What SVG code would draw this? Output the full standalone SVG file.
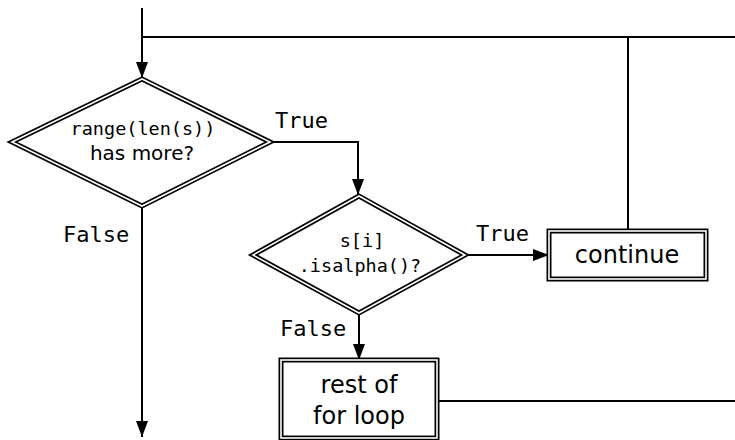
<svg xmlns="http://www.w3.org/2000/svg" width="735" height="440" viewBox="0 0 735 440">
<style>
.edge{fill:none;stroke:#000;stroke-width:2}
.outer{fill:#fff;stroke:#000;stroke-width:5}
.inner{fill:none;stroke:#fff;stroke-width:1.6}
.mono{font-family:"DejaVu Sans Mono","Liberation Mono",monospace;fill:#000}
.sans{font-family:"DejaVu Sans","Liberation Sans",sans-serif;fill:#000}
.d{font-size:18.5px;text-anchor:middle}
.lbl{font-size:22px}
.big{font-size:24px;text-anchor:middle}
</style>
<defs>
<marker id="arr" markerUnits="userSpaceOnUse" markerWidth="16" markerHeight="12" refX="16" refY="6" orient="auto" viewBox="0 0 16 12">
<path d="M0,0 L16,6 L0,12 z" fill="#000"/>
</marker>
</defs>
<rect width="735" height="440" fill="#fff"/>
<g id="connectors">
<path class="edge" d="M142 8 V78" marker-end="url(#arr)"/>
<path class="edge" d="M142 37 H735"/>
<path class="edge" d="M628 37 V231"/>
<path class="edge" d="M142 207 V437" marker-end="url(#arr)"/>
<path class="edge" d="M270 142 H358 V195" marker-end="url(#arr)"/>
<path class="edge" d="M465 255 H549" marker-end="url(#arr)"/>
<path class="edge" d="M359 313 V360" marker-end="url(#arr)"/>
<path class="edge" d="M437 401 H735"/>
<text class="mono lbl" x="275" y="128">True</text>
<text class="mono lbl" x="63" y="242">False</text>
<text class="mono lbl" x="476" y="241">True</text>
<text class="mono lbl" x="280" y="336">False</text>
</g>
<g id="cond1">
<polygon class="outer" points="142,79 12,142 142,206 270,142"/>
<polygon class="inner" points="142,79 12,142 142,206 270,142"/>
<text class="mono d" x="143" y="135">range(len(s))</text>
<text class="sans d" x="142" y="160" style="font-size:20px">has more?</text>
</g>
<g id="cond2">
<polygon class="outer" points="359,196 253,255 359,313 465,255"/>
<polygon class="inner" points="359,196 253,255 359,313 465,255"/>
<text class="mono d" x="362" y="247">s[i]</text>
<text class="mono d" x="360" y="272">.isalpha()?</text>
</g>
<g id="continue">
<rect class="outer" x="549" y="231" width="157" height="48"/>
<rect class="inner" x="549" y="231" width="157" height="48"/>
<text class="sans big" x="627" y="263">continue</text>
</g>
<g id="rest">
<rect class="outer" x="281" y="360" width="156" height="78"/>
<rect class="inner" x="281" y="360" width="156" height="78"/>
<text class="sans big" x="359" y="393">rest of</text>
<text class="sans big" x="359" y="424">for loop</text>
</g>
</svg>
